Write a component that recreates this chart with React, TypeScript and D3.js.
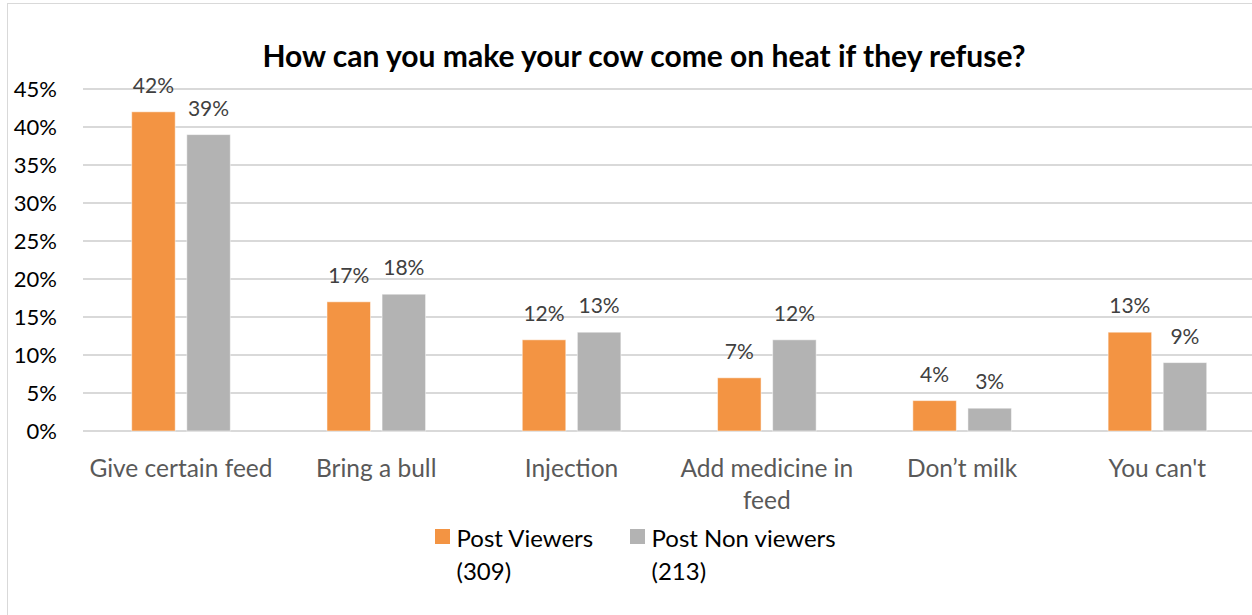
import React from "react";
import * as d3 from "d3";

const categories: string[][] = [
  ["Give certain feed"],
  ["Bring a bull"],
  ["Injection"],
  ["Add medicine in", "feed"],
  ["Don\u2019t milk"],
  ["You can't"],
];
const seriesNames: string[][] = [["Post Viewers", "(309)"], ["Post Non viewers", "(213)"]];
const viewers: number[] = [0.42, 0.17, 0.12, 0.07, 0.04, 0.13];
const nonViewers: number[] = [0.39, 0.18, 0.13, 0.12, 0.03, 0.09];
const yTicks: number[] = [0, 0.05, 0.1, 0.15, 0.2, 0.25, 0.3, 0.35, 0.4, 0.45];
const title = "How can you make your cow come on heat if they refuse?";
const colors = ["#F39443", "#B3B3B3"];

const W = 1252;
const H = 615;
const FONT = "Lato, 'Open Sans', sans-serif";

export default function App() {
  const keys = categories.map((c) => c.join(" "));
  const x0 = d3.scaleBand<string>().domain(keys).range([83.3, 1255]).padding(0);
  const x1 = d3
    .scaleBand<string>()
    .domain(["0", "1"])
    .range([48.4, 147])
    .paddingInner(0.21)
    .paddingOuter(0);
  const y = d3.scaleLinear().domain([0, 0.45]).range([431, 89]);
  const fmt = d3.format(".0%");
  const series = [viewers, nonViewers];

  return (
    <svg width={W} height={H} style={{ position: "absolute", left: 0, top: 0, display: "block" }}>
      <rect x={0} y={0} width={W} height={H} fill="#fff" />
      <rect x={7.5} y={3.5} width={W + 10} height={H + 10} fill="none" stroke="#D9D9D9" strokeWidth={1} />
      <text
        x={644}
        y={67}
        textAnchor="middle"
        fontFamily={FONT}
        fontWeight="bold"
        fontSize={30}
        fill="#000"
      >
        {title}
      </text>
      {yTicks.map((t) => (
        <g key={t}>
          <line x1={83} x2={W} y1={y(t)} y2={y(t)} stroke="#D9D9D9" strokeWidth={2} />
          <text
            x={57}
            y={y(t) + 8}
            textAnchor="end"
            fontFamily={FONT}
            fontSize={22}
            fill="#000"
          >
            {fmt(t)}
          </text>
        </g>
      ))}
      {keys.map((k, i) => (
        <g key={k} transform={`translate(${x0(k)},0)`}>
          {series.map((s, si) => {
            const bx = x1(String(si))!;
            const bw = x1.bandwidth();
            return (
              <g key={si}>
                <rect
                  x={bx}
                  y={y(s[i])}
                  width={bw}
                  height={y(0) - y(s[i])}
                  fill={colors[si]}
                  stroke="#fff"
                  strokeOpacity={0.5}
                  strokeWidth={1}
                />
                <text
                  x={bx + bw / 2}
                  y={y(s[i]) - 19}
                  textAnchor="middle"
                  fontFamily={FONT}
                  fontSize={21}
                  fill="#404040"
                >
                  {fmt(s[i])}
                </text>
              </g>
            );
          })}
          {categories[i].map((line, li) => (
            <text
              key={li}
              x={x0.bandwidth() / 2}
              y={477 + li * 32}
              textAnchor="middle"
              fontFamily={FONT}
              fontSize={24.5}
              fill="#595959"
            >
              {line}
            </text>
          ))}
        </g>
      ))}
      {seriesNames.map((names, si) => {
        const lx = si === 0 ? 435 : 630;
        return (
          <g key={si}>
            <rect x={lx} y={529} width={15} height={15} fill={colors[si]} />
            {names.map((n, li) => (
              <text
                key={li}
                x={lx + 21.5}
                y={547 + li * 33}
                fontFamily={FONT}
                fontSize={24}
                fill="#000"
              >
                {n}
              </text>
            ))}
          </g>
        );
      })}
    </svg>
  );
}
